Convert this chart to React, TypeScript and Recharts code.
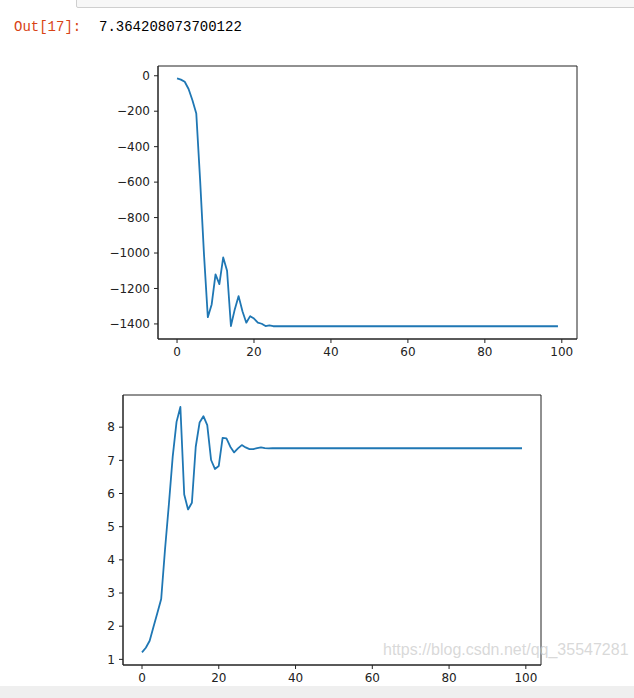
import React from "react";
import { LineChart, Line, XAxis, YAxis, ReferenceArea } from "recharts";

const lossValues: number[] = [
  -15, -22, -34, -75, -138, -213, -590, -1006, -1362, -1290,
  -1120, -1175, -1025, -1100, -1412, -1318, -1243, -1328, -1393, -1356,
  -1370, -1393, -1399, -1412, -1408, -1413, -1413, -1413, -1413, -1413,
  -1413, -1413, -1413, -1413, -1413, -1413, -1413, -1413, -1413, -1413,
  -1413, -1413, -1413, -1413, -1413, -1413, -1413, -1413, -1413, -1413,
  -1413, -1413, -1413, -1413, -1413, -1413, -1413, -1413, -1413, -1413,
  -1413, -1413, -1413, -1413, -1413, -1413, -1413, -1413, -1413, -1413,
  -1413, -1413, -1413, -1413, -1413, -1413, -1413, -1413, -1413, -1413,
  -1413, -1413, -1413, -1413, -1413, -1413, -1413, -1413, -1413, -1413,
  -1413, -1413, -1413, -1413, -1413, -1413, -1413, -1413, -1413, -1413,
];

const paramValues: number[] = [
  1.21, 1.35, 1.56, 1.98, 2.4, 2.82, 4.32, 5.67, 7.11, 8.16,
  8.61, 5.97, 5.52, 5.72, 7.41, 8.14, 8.33, 8.06, 7.01, 6.74,
  6.83, 7.68, 7.66, 7.41, 7.24, 7.36, 7.46, 7.39, 7.34, 7.34,
  7.37, 7.39, 7.37, 7.36, 7.364, 7.364, 7.364, 7.364, 7.364, 7.364,
  7.364, 7.364, 7.364, 7.364, 7.364, 7.364, 7.364, 7.364, 7.364, 7.364,
  7.364, 7.364, 7.364, 7.364, 7.364, 7.364, 7.364, 7.364, 7.364, 7.364,
  7.364, 7.364, 7.364, 7.364, 7.364, 7.364, 7.364, 7.364, 7.364, 7.364,
  7.364, 7.364, 7.364, 7.364, 7.364, 7.364, 7.364, 7.364, 7.364, 7.364,
  7.364, 7.364, 7.364, 7.364, 7.364, 7.364, 7.364, 7.364, 7.364, 7.364,
  7.364, 7.364, 7.364, 7.364, 7.364, 7.364, 7.364, 7.364, 7.364, 7.364,
];

const xTicks: number[] = [0, 20, 40, 60, 80, 100];
const lossTicks: number[] = [0, -200, -400, -600, -800, -1000, -1200, -1400];
const paramTicks: number[] = [1, 2, 3, 4, 5, 6, 7, 8];

const outLabel = "Out[17]:";
const outValue = "7.364208073700122";
const watermark = "https://blog.csdn.net/qq_35547281";

const lossData = lossValues.map((v, i) => ({ x: i, y: v }));
const paramData = paramValues.map((v, i) => ({ x: i, y: v }));

const BLUE = "#1f77b4";
const tickStyle = { fontSize: 12, fill: "#222", fontFamily: "DejaVu Sans" };
const fmt = (v: number) => (v < 0 ? "\u2212" + Math.abs(v) : String(v));

export default function App() {
  return (
    <div style={{ position: "absolute", left: 0, top: 0, width: 634, height: 698, background: "#fff", overflow: "hidden" }}>
      <div style={{ position: "absolute", left: 76, top: -1, width: 570, height: 7, border: "1px solid #cfcfcf", borderBottomLeftRadius: 2, background: "#f7f7f7" }} />
      <div style={{ position: "absolute", left: 0, top: 686, width: 634, height: 12, background: "#efefef" }} />
      <div style={{ position: "absolute", left: 14, top: 19, fontFamily: "Liberation Mono", fontSize: 14, lineHeight: "16px", color: "#d84315" }}>{outLabel}</div>
      <div style={{ position: "absolute", left: 99, top: 19, fontFamily: "Liberation Mono", fontSize: 14, lineHeight: "16px", color: "#000" }}>{outValue}</div>

      <div style={{ position: "absolute", left: 0, top: 0 }}>
        <LineChart width={634} height={370} data={lossData} margin={{ top: 66, right: 57, bottom: 1, left: 98 }}>
          <XAxis dataKey="x" type="number" domain={[-4.95, 103.95]} ticks={xTicks} allowDataOverflow height={30}
            tick={tickStyle} tickSize={4} tickMargin={4} stroke="#222" interval={0} />
          <YAxis type="number" domain={[-1485, 55]} ticks={lossTicks} allowDataOverflow width={60}
            tick={tickStyle} tickSize={4} tickMargin={4} stroke="#222" tickFormatter={fmt} interval={0} />
          <ReferenceArea x1={-4.95} x2={103.95} y1={-1485} y2={55} fill="none" stroke="#222" strokeWidth={1} ifOverflow="visible" />
          <Line type="linear" dataKey="y" stroke={BLUE} strokeWidth={1.8} dot={false} isAnimationActive={false} strokeLinejoin="round" />
        </LineChart>
      </div>

      <div style={{ position: "absolute", left: 0, top: 380 }}>
        <LineChart width={634} height={318} data={paramData} margin={{ top: 15, right: 93, bottom: 3, left: 83 }}>
          <XAxis dataKey="x" type="number" domain={[-4.95, 103.95]} ticks={xTicks} allowDataOverflow height={30}
            tick={tickStyle} tickSize={4} tickMargin={4} stroke="#222" interval={0} />
          <YAxis type="number" domain={[0.83, 8.97]} ticks={paramTicks} allowDataOverflow width={40}
            tick={tickStyle} tickSize={4} tickMargin={4} stroke="#222" interval={0} />
          <ReferenceArea x1={-4.95} x2={103.95} y1={0.83} y2={8.97} fill="none" stroke="#222" strokeWidth={1} ifOverflow="visible" />
          <Line type="linear" dataKey="y" stroke={BLUE} strokeWidth={1.8} dot={false} isAnimationActive={false} strokeLinejoin="round" />
        </LineChart>
      </div>

      <div style={{ position: "absolute", left: 383, top: 641, fontFamily: "Liberation Sans", fontSize: 16, color: "rgba(200,200,200,0.7)", whiteSpace: "nowrap" }}>{watermark}</div>
    </div>
  );
}
